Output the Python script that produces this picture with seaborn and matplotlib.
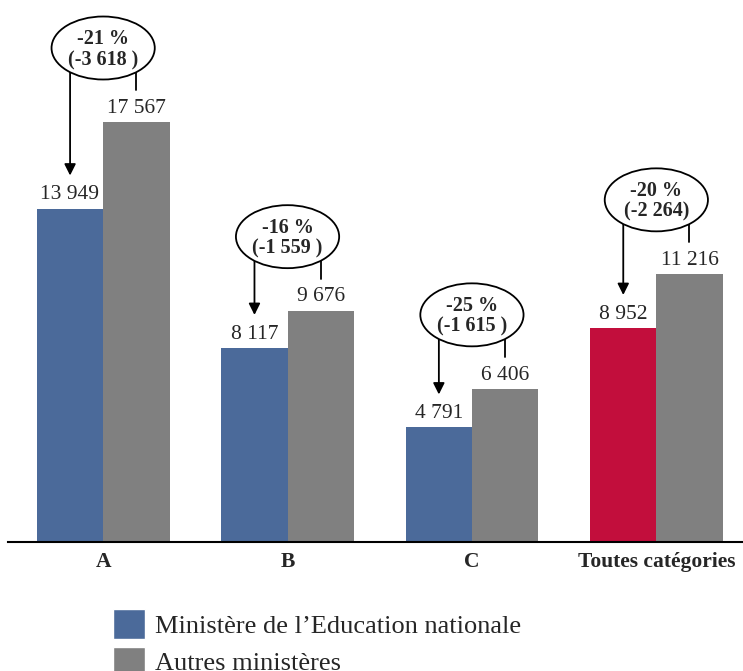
import matplotlib
matplotlib.use("Agg")
import pandas as pd
import matplotlib.pyplot as plt
import seaborn as sns
from matplotlib.patches import Ellipse, Patch

# Data
categories = ["A", "B", "C", "Toutes catégories"]
series = ["Ministère de l’Education nationale", "Autres ministères"]
education = [13949, 8117, 4791, 8952]
autres = [17567, 9676, 6406, 11216]
ecart_pct = ["-21 %", "-16 %", "-25 %", "-20 %"]
ecart_abs = ["(-3 618 )", "(-1 559 )", "(-1 615 )", "(-2 264)"]

BLUE = "#4B6A9A"
GREY = "#808080"
RED = "#C20E3C"

sns.set_style("white")
plt.rcParams["font.family"] = ["Liberation Serif", "DejaVu Serif"]

df = pd.DataFrame({
    "cat": categories * 2,
    "serie": [series[0]] * 4 + [series[1]] * 4,
    "val": education + autres,
})


def fmt(v):
    return f"{v:,}".replace(",", " ")


W, H = 743, 671
fig = plt.figure(figsize=(W / 100, H / 100), dpi=100)
ax = fig.add_axes([8 / W, (H - 542) / H, (W - 8) / W, 542 / H])

sns.barplot(data=df, x="cat", y="val", hue="serie", palette=[BLUE, GREY],
            width=0.72, gap=0, saturation=1, errorbar=None, legend=False,
            linewidth=0, ax=ax)
ax.containers[0][3].set_facecolor(RED)

YMAX = 22670
ax.set_ylim(0, YMAX)
ax.set_xlim(-0.516, 3.47)
uy = YMAX / 542   # data units per pixel (y)
ux = 1 / 184      # data units per pixel (x)

for cont, vals in zip(ax.containers, [education, autres]):
    ax.bar_label(cont, labels=[fmt(v) for v in vals], padding=3, fontsize=15.5)

# ellipses with the gap between the two series
for i in range(len(categories)):
    cy = autres[i] + 74 * uy
    ax.add_patch(Ellipse((i, cy), 103 * ux, 63 * uy, facecolor="white",
                         edgecolor="black", lw=1.3, zorder=5))
    ax.text(i, cy + 9 * uy, ecart_pct[i], ha="center", va="center",
            fontsize=14.5, fontweight="bold", zorder=6)
    ax.text(i, cy - 12 * uy, ecart_abs[i], ha="center", va="center",
            fontsize=14.5, fontweight="bold", zorder=6)
    # arrow towards the education bar
    ax.annotate("", xy=(i - 33 * ux, education[i] + 33 * uy),
                xytext=(i - 33 * ux, cy - 24 * uy),
                arrowprops=dict(arrowstyle="-|>", color="black", lw=1.3,
                                mutation_scale=17, shrinkA=0, shrinkB=0),
                zorder=4)
    # small line towards the other bar
    ax.plot([i + 33 * ux, i + 33 * ux], [cy - 24 * uy, autres[i] + 32 * uy],
            color="black", lw=1.3, zorder=4)

sns.despine(ax=ax, left=True, top=True, right=True)
ax.spines["bottom"].set_color("black")
ax.spines["bottom"].set_linewidth(1.5)
ax.set_yticks([])
ax.set_xlabel("")
ax.set_ylabel("")
ax.tick_params(axis="x", length=0, pad=7, labelsize=15.5)
for lbl in ax.get_xticklabels():
    lbl.set_fontweight("bold")

handles = [Patch(facecolor=BLUE), Patch(facecolor=GREY)]
fig.legend(handles, series, loc="upper left", bbox_to_anchor=(113 / W, 1 - 609 / H),
           frameon=False, fontsize=19, handlelength=1.2, handleheight=1.35,
           handletextpad=0.38, labelspacing=0.3, borderaxespad=0, borderpad=0)

fig.savefig("out.png", dpi=100)
